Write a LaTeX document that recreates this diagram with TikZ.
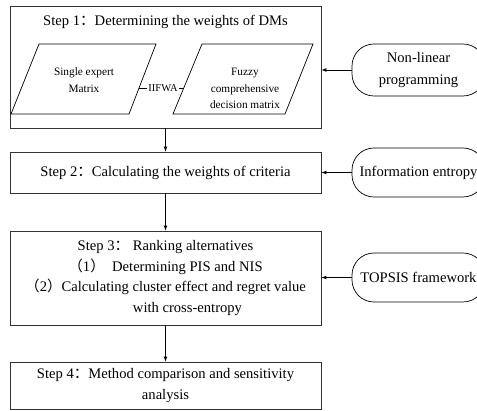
\documentclass[tikz,border=0pt]{standalone}
\usepackage{fontspec}
\setmainfont{Liberation Serif}
\newfontfamily\cjkfont{Noto Sans CJK SC}
\usepackage{tikz}
\usetikzlibrary{arrows}

\newcommand{\fcolon}{{\cjkfont ：}}
\newcommand{\flp}{{\cjkfont （}}
\newcommand{\frp}{{\cjkfont ）}}

\begin{document}
\begin{tikzpicture}[x=1pt,y=-1pt,
  bigtxt/.style={font=\fontsize{14.6pt}{20.5pt}\selectfont, align=center, inner sep=0pt},
  smalltxt/.style={font=\fontsize{11.3pt}{16.5pt}\selectfont, align=center, inner sep=0pt},
  stepbox/.style={draw=black!80, line width=0.8pt, minimum width=311pt, inner sep=0pt, bigtxt},
  pgram/.style={draw, line width=0.7pt},
  toolbox/.style={draw, line width=0.7pt, rounded corners=22pt, minimum width=133pt, inner sep=0pt, bigtxt},
  flow/.style={->,>=latex, line width=0.7pt}]
  \useasboundingbox (0,0) rectangle (477,411);

  % steps
  \node[stepbox, minimum height=122pt] (step1) at (165.5,67) {};
  \node[bigtxt] (step1title) at (165.5,22) {Step 1\fcolon Determining the weights of DMs};
  \node[stepbox, minimum height=41pt] (step2) at (165.5,172.5) {Step 2\fcolon Calculating the weights of criteria};
  \node[stepbox, minimum height=94pt] (step3) at (165.5,278) {Step 3\fcolon\ Ranking alternatives\\
    \flp 1\frp\ \ Determining PIS and NIS\\
    \flp 2\frp Calculating cluster effect and regret value\\
    \hspace*{44pt}with cross-entropy};
  \node[stepbox, minimum height=47pt] (step4) at (165.5,385.5) {Step 4\fcolon Method comparison and sensitivity\\analysis};

  % matrices inside step 1
  \draw[pgram] (11,114) -- (39,44) -- (156,44) -- (129,114) -- cycle;
  \draw[pgram] (173,114) -- (202,44) -- (313,44) -- (285,114) -- cycle;
  \coordinate (pmLright) at (139.4,88);
  \coordinate (pmRleft) at (183.8,88);
  \node[smalltxt] (sem) at (84,80) {Single expert\\Matrix};
  \node[smalltxt] (fcdm) at (245,88.5) {Fuzzy\\comprehensive\\decision matrix};
  \node[font=\fontsize{10.5pt}{12pt}\selectfont, inner sep=1.5pt] (iifwa) at (163,88) {IIFWA};
  \draw[line width=0.7pt] (iifwa.west) -- (pmLright);
  \draw[line width=0.7pt] (iifwa.east) -- (pmRleft);

  % tools
  \node[toolbox, minimum height=52pt] (nlp) at (418.5,70) {Non-linear\\[1.5pt]programming};
  \node[toolbox, minimum height=49pt] (entropy) at (418.5,172.5) {Information entropy};
  \node[toolbox, minimum height=49pt] (topsis) at (418.5,277.5) {TOPSIS framework};

  % arrows
  \draw[flow] (step1) -- (step2);
  \draw[flow] (step2) -- (step3);
  \draw[flow] (step3) -- (step4);
  \draw[flow] (nlp.west) -- (nlp.west -| step1.east);
  \draw[flow] (entropy.west) -- (entropy.west -| step2.east);
  \draw[flow] (topsis.west) -- (topsis.west -| step3.east);
\end{tikzpicture}
\end{document}
